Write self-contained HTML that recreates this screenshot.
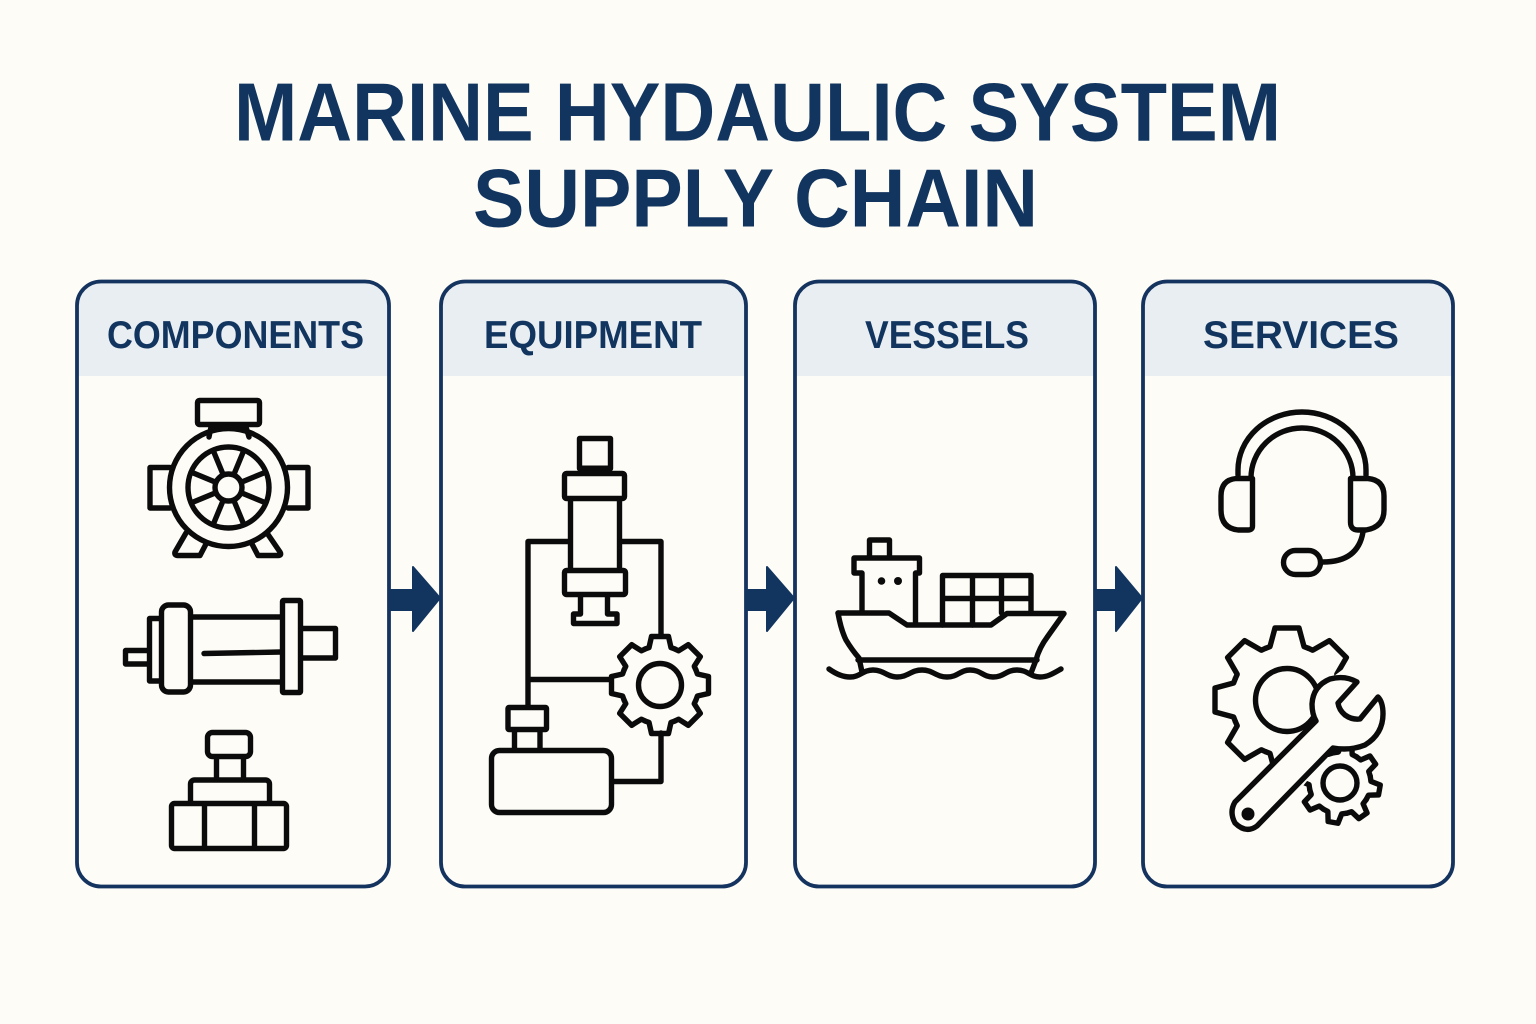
<!DOCTYPE html>
<html><head><meta charset="utf-8"><style>
html,body{margin:0;padding:0;background:#fdfcf7}
svg{display:block}
text{font-family:"Liberation Sans",sans-serif;font-weight:700;fill:#12355f}
.i{fill:none;stroke:#0b0b0b;stroke-width:5.4;stroke-linejoin:round;stroke-linecap:round}
.f{fill:#fdfcf7}
</style></head><body>
<svg width="1536" height="1024" viewBox="0 0 1536 1024" xmlns="http://www.w3.org/2000/svg">
<defs>
<path id="t1" d="M-14.9-36L-11-37.4L-8.5-48.5L8.5-48.5L11-37.4L14.9-36"/>
<path id="t2" d="M-21.4-51.7L-17-53.4L-12-72L12-72L17-53.4L21.4-51.7"/>
<path id="t3" d="M-11.9-28.6L-7-30.2L-5-40L5-40L7-30.2L11.9-28.6"/>
<clipPath id="cg"><polygon points="1298,792 1345,735 1400,735 1400,840 1298,840"/></clipPath>
<clipPath id="cb"><polygon points="1200,610 1350,610 1350,664 1334,676 1312,700 1316,722 1262,776 1200,790"/></clipPath>
</defs>
<rect width="1536" height="1024" fill="#fdfcf7"/>
<text x="234" y="140.5" font-size="83" textLength="1047" lengthAdjust="spacingAndGlyphs">MARINE HYDAULIC SYSTEM</text>
<text x="473" y="226.5" font-size="83" textLength="565" lengthAdjust="spacingAndGlyphs">SUPPLY CHAIN</text>

<!-- header fills -->
<path d="M77 376V305a24 24 0 0 1 24-24H365a24 24 0 0 1 24 24V376Z" fill="#e9eef2"/>
<path d="M441 376V305a24 24 0 0 1 24-24H722a24 24 0 0 1 24 24V376Z" fill="#e9eef2"/>
<path d="M795 376V305a24 24 0 0 1 24-24H1071a24 24 0 0 1 24 24V376Z" fill="#e9eef2"/>
<path d="M1143 376V305a24 24 0 0 1 24-24H1429a24 24 0 0 1 24 24V376Z" fill="#e9eef2"/>
<!-- cards -->
<g fill="none" stroke="#14335e" stroke-width="3.8">
<rect x="77" y="281.5" width="312" height="605" rx="24"/>
<rect x="441" y="281.5" width="305" height="605" rx="24"/>
<rect x="795" y="281.5" width="300" height="605" rx="24"/>
<rect x="1143" y="281.5" width="310" height="605" rx="24"/>
</g>
<text x="107" y="348" font-size="39" textLength="257" lengthAdjust="spacingAndGlyphs">COMPONENTS</text>
<text x="484" y="348" font-size="39" textLength="218" lengthAdjust="spacingAndGlyphs">EQUIPMENT</text>
<text x="865" y="348" font-size="39" textLength="164" lengthAdjust="spacingAndGlyphs">VESSELS</text>
<text x="1203" y="348" font-size="39" textLength="196" lengthAdjust="spacingAndGlyphs">SERVICES</text>

<!-- arrows -->
<g fill="#12355f" stroke="#12355f" stroke-width="2" stroke-linejoin="round">
<path d="M390 590H413V567L440 598L413 631V610H390Z"/>
<path d="M746 590H767V567L794 598L767 631V610H746Z"/>
<path d="M1095 590H1116V567L1142 598L1116 631V610H1095Z"/>
</g>

<g class="i">
<!-- motor -->
<rect x="197.5" y="400.5" width="62" height="24" rx="2"/>
<path d="M209 437L211 427H246L249 437"/>
<path d="M170 467.5H150V508H170M288 467.5H308V508H288"/>
<path d="M186 533L175 552Q174 555.500 178 555.500H200L206 544M267 533L280 552Q282 555.500 278 555.500H258L252 544"/>
<circle cx="228.5" cy="487.5" r="59"/>
<circle cx="228.5" cy="487.5" r="40.5"/>
<path d="M243.8 450.5L213.2 524.5M213.2 450.5L243.8 524.5M265.5 472.2L191.5 502.8M265.5 502.8L191.5 472.2"/>
<circle cx="228.5" cy="487.5" r="13.5" class="f"/>

<!-- cylinder -->
<path d="M147 650.5H125.500V664H147"/>
<path d="M160 618.500H149.500V681H160"/>
<rect x="161.500" y="605" width="29" height="87" rx="7"/>
<path d="M191 617H282M191 682H282M204 653.500L281 652"/>
<rect x="282.500" y="600.500" width="18" height="92" rx="1"/>
<path d="M301 628.500H335.500V658H301"/>

<!-- valve -->
<rect x="207.500" y="732.500" width="43" height="24" rx="5"/>
<path d="M216.500 757V779M243.500 757V779"/>
<path d="M190.500 802V784a4 4 0 0 1 4-4H265.500a4 4 0 0 1 4 4V802"/>
<rect x="171.500" y="803.500" width="115" height="45" rx="3"/>
<path d="M204.500 804V848M254.500 804V848"/>

<!-- equipment -->
<rect x="579.500" y="438.500" width="31" height="30"/>
<path d="M580 468.500H610" stroke-width="6"/>
<rect x="564.500" y="473.500" width="60" height="25" rx="2"/>
<path d="M570.500 499V568M619.500 499V568"/>
<rect x="564.500" y="570.500" width="61" height="24" rx="2"/>
<path d="M580.500 595V614H573.500V623.500H617V614H607.500V595"/>
<path d="M568 541.500H528V706M622 541.500H661V636M528 679.500H611M661 733V781.500H613"/>
<g transform="translate(660 685)">
<use href="#t1"/><use href="#t1" transform="rotate(45)"/><use href="#t1" transform="rotate(90)"/><use href="#t1" transform="rotate(135)"/><use href="#t1" transform="rotate(180)"/><use href="#t1" transform="rotate(225)"/><use href="#t1" transform="rotate(270)"/><use href="#t1" transform="rotate(315)"/>
<circle r="21.500"/>
</g>
<rect x="508" y="707.500" width="38.500" height="22" rx="1"/>
<path d="M514.500 730V749M540 730V749"/>
<rect x="491.500" y="750.500" width="120" height="62" rx="8"/>

<!-- ship -->
<path d="M869.500 557V540H889.500V557"/>
<path d="M862 612V573H854V558H919.500V573H915.500V622"/>
<path d="M838 613H889L907 625H991L1007 613.500H1064L1048 636Q1039 648 1036 660L1031 673"/>
<path d="M838 613Q841 630 846 640Q852 650 859 658L862 672"/>
<path d="M858 660H1037"/>
<path d="M942.500 625V575.500H1031V611M972.500 576V625M1001.500 576V613M943 598.500H1031"/>
<path d="M829 669C836 674 843 677 850 677C860 677 863 670 873 670C884 670 887 677 897 677C908 677 911 670 922 670C933 670 936 677 947 677C958 677 960 670 970 670C981 670 983 677 993 677C1004 677 1006 670 1017 670C1028 670 1030 677 1040 677C1048 677 1054 673 1061 669"/>
</g>
<circle cx="881.500" cy="581" r="3.800" fill="#0b0b0b"/>
<circle cx="898" cy="581" r="4" fill="#0b0b0b"/>

<g class="i">
<!-- headset -->
<path d="M1238 475V470A64 58 0 0 1 1366 470V475"/>
<path d="M1251 476V478A51 50 0 0 1 1353 478V476"/>
<path d="M1252.500 478.500V526Q1252.500 530 1248 530H1238Q1221 528 1221 510V496Q1221 480 1236 478.500Z"/>
<path d="M1350.500 478.500V522Q1350.500 530 1358 530H1366Q1384 527 1384 510V496Q1384 480 1368 478.500Z"/>
<rect x="1283.500" y="550.500" width="37" height="24" rx="12"/>
<path d="M1363 532Q1358 562 1323 562"/>

<!-- big gear -->
<g clip-path="url(#cb)"><g transform="translate(1287 700)">
<use href="#t2"/><use href="#t2" transform="rotate(45)"/><use href="#t2" transform="rotate(90)"/><use href="#t2" transform="rotate(135)"/><use href="#t2" transform="rotate(180)"/><use href="#t2" transform="rotate(225)"/><use href="#t2" transform="rotate(270)"/><use href="#t2" transform="rotate(315)"/>
<circle r="31.500"/>
</g></g>
<!-- small gear -->
<g clip-path="url(#cg)"><g transform="translate(1340 783) rotate(10)">
<use href="#t3"/><use href="#t3" transform="rotate(45)"/><use href="#t3" transform="rotate(90)"/><use href="#t3" transform="rotate(135)"/><use href="#t3" transform="rotate(180)"/><use href="#t3" transform="rotate(225)"/><use href="#t3" transform="rotate(270)"/><use href="#t3" transform="rotate(315)"/>
</g></g>
<circle cx="1340" cy="783" r="17"/>
<!-- wrench -->
<path class="f" d="M1357 682Q1345 675 1330 679Q1313 686 1312 704Q1312 714 1316 721L1235 802Q1229 812 1235 823Q1246 834 1257 826L1333 748Q1350 751 1365 745Q1383 734 1383 714Q1383 702 1378 697L1360 719Q1352 720 1345 715Q1339 710 1338 703Z"/>
</g>
<circle cx="1248" cy="814" r="6.500" fill="#0b0b0b"/>
</svg>
</body></html>
